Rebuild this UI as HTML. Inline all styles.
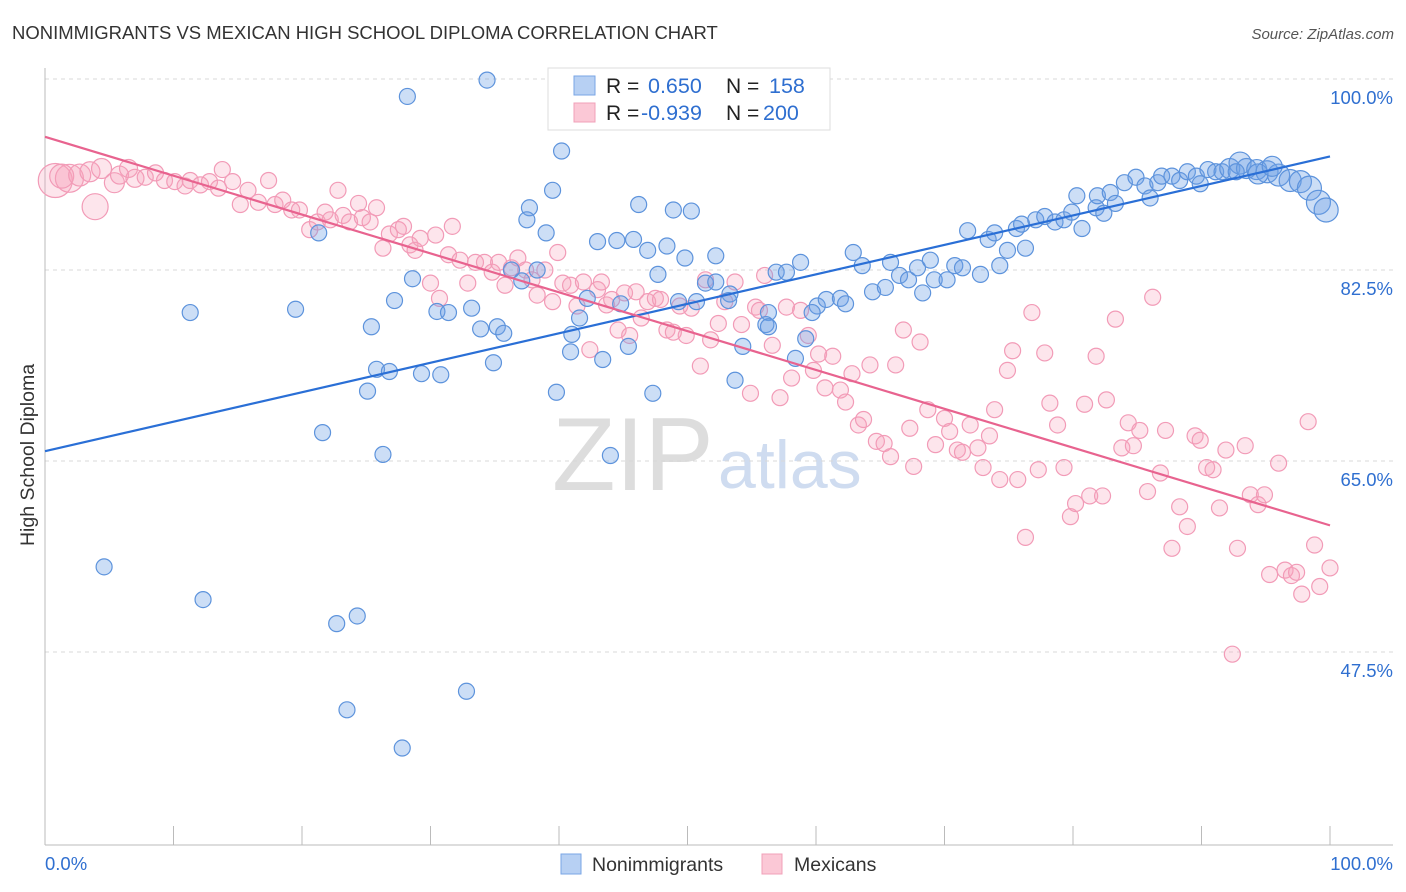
<!DOCTYPE html>
<html><head><meta charset="utf-8">
<style>
body{margin:0;background:#fff;font-family:"Liberation Sans",sans-serif;}
#wrap{position:relative;width:1406px;height:892px;overflow:hidden;}
svg text{font-family:"Liberation Sans",sans-serif;}
</style></head>
<body>
<div id="wrap">
<svg id="chart" width="1406" height="892">
  <text x="12" y="39" font-size="18.5" fill="#333">NONIMMIGRANTS VS MEXICAN HIGH SCHOOL DIPLOMA CORRELATION CHART</text>
  <text x="1394" y="39" font-size="15" fill="#555" font-style="italic" text-anchor="end">Source: ZipAtlas.com</text>
  <text x="552" y="490" font-size="104" fill="#ddd" font-family="Liberation Serif">ZIP</text>
  <text x="718" y="488" font-size="68" fill="#cfdcf0">atlas</text>
  <g id="grid"></g>
  <g id="axes"></g>
  <g id="marks"></g>
  <g id="trends"></g>
  <text transform="translate(34,455) rotate(-90)" font-size="19.5" fill="#333" text-anchor="middle">High School Diploma</text>
  <g>
    <rect x="548" y="68" width="282" height="62" fill="#fff" stroke="#ddd"/>
    <rect x="574" y="76" width="21" height="19" fill="#b7d0f3" stroke="#7aa6e6"/>
    <rect x="574" y="103" width="21" height="19" fill="#fbc8d6" stroke="#f0a0b8"/>
    <text x="606" y="93" font-size="21" fill="#222">R =</text>
    <text x="648" y="93" font-size="21.5" fill="#2f6fd0">0.650</text>
    <text x="726" y="93" font-size="21" fill="#222">N =</text>
    <text x="769" y="93" font-size="21.5" fill="#2f6fd0">158</text>
    <text x="606" y="120" font-size="21" fill="#222">R =</text>
    <text x="641" y="120" font-size="21.5" fill="#2f6fd0">-0.939</text>
    <text x="726" y="120" font-size="21" fill="#222">N =</text>
    <text x="763" y="120" font-size="21.5" fill="#2f6fd0">200</text>
  </g>
  <g>
    <rect x="561" y="854" width="20" height="20" fill="#b7d0f3" stroke="#7aa6e6"/>
    <text x="592" y="871" font-size="19.5" fill="#333">Nonimmigrants</text>
    <rect x="762" y="854" width="20" height="20" fill="#fbc8d6" stroke="#f0a0b8"/>
    <text x="794" y="871" font-size="19.5" fill="#333">Mexicans</text>
  </g>
</svg>
</div>
<script>
const yTicks=[100.0,82.5,65.0,47.5];
const yTickLabels=["100.0%","82.5%","65.0%","47.5%"];
const xTicks=[0,10,20,30,40,50,60,70,80,90,100];
const xEndLabels=["0.0%","100.0%"];
const blueX=[34.4,28.2,40.2,39.5,37.7,37.5,39.0,46.2,48.9,50.3,43.0,44.5,45.8,46.9,48.4,52.2,49.8,47.7,51.4,52.2,53.3,50.7,49.3,42.2,44.8,41.6,41.0,45.4,43.4,36.3,38.3,37.1,28.6,27.2,30.5,31.4,33.2,33.9,35.2,35.7,34.9,25.4,25.8,26.8,29.3,30.8,25.1,19.5,11.3,21.3,21.6,26.3,44.0,39.8,47.3,53.7,54.3,56.3,56.1,58.4,59.2,56.9,57.7,58.8,60.1,60.8,61.9,62.3,62.9,63.6,64.4,65.4,65.8,66.5,67.2,67.9,68.9,69.2,70.2,70.8,71.4,72.8,74.3,68.3,71.8,73.4,73.9,74.9,75.6,76.3,76.0,77.1,77.8,78.6,79.3,79.9,80.7,80.3,81.8,82.4,81.9,82.9,83.3,84.0,84.9,85.6,86.0,86.6,86.9,87.7,88.3,88.9,89.6,89.9,90.5,91.1,91.6,92.2,93.0,93.5,94.3,95.1,96.0,96.9,97.7,98.4,99.1,99.7,94.4,95.5,92.7,4.6,12.3,22.7,24.3,32.8,23.5,27.8,56.3,59.7,53.2,40.9];
const blueY=[99.9,98.4,93.4,89.8,88.2,87.1,85.9,88.5,88.0,87.9,85.1,85.2,85.3,84.3,84.7,83.8,83.6,82.1,81.3,81.4,80.3,79.6,79.6,79.9,79.4,78.1,76.6,75.5,74.3,82.5,82.5,81.5,81.7,79.7,78.7,78.6,79.0,77.1,77.3,76.7,74.0,77.3,73.4,73.2,73.0,72.9,71.4,78.9,78.6,85.9,67.6,65.6,65.5,71.3,71.2,72.4,75.5,78.6,77.5,74.4,76.2,82.3,82.3,83.2,79.2,79.8,79.9,79.4,84.1,82.9,80.5,80.9,83.2,82.0,81.6,82.7,83.4,81.6,81.6,82.9,82.7,82.1,82.9,80.4,86.1,85.3,85.9,84.3,86.3,84.5,86.7,87.1,87.4,86.9,87.1,87.8,86.3,89.3,88.2,87.7,89.3,89.6,88.6,90.5,91.0,90.2,89.1,90.5,91.1,91.1,90.7,91.5,91.1,90.4,91.7,91.5,91.5,91.8,92.3,91.8,91.7,91.5,91.2,90.7,90.6,90.0,88.7,88.0,91.3,92.0,91.5,55.3,52.3,50.1,50.8,43.9,42.2,38.7,77.3,78.6,79.7,75.0];
const pinkX=[0.8,1.9,1.3,2.7,3.5,3.9,4.4,5.4,5.8,6.5,7.0,7.8,8.6,9.3,10.1,10.9,11.3,12.1,12.8,13.5,13.8,14.6,15.2,15.8,16.6,17.4,17.9,18.5,19.2,19.8,20.6,21.2,21.8,22.2,22.8,23.2,23.7,24.4,24.7,25.3,25.8,26.3,26.8,27.5,27.9,28.4,28.8,29.2,30.0,30.4,30.7,31.4,31.7,32.3,32.9,33.5,34.2,34.8,35.3,35.8,36.3,36.8,37.4,37.9,38.3,38.9,39.5,39.9,40.3,40.9,41.4,41.9,42.4,43.0,43.3,43.7,44.1,44.6,45.1,45.5,46.0,46.4,46.9,47.5,47.9,48.4,48.9,49.4,49.9,50.3,51.0,51.4,51.8,52.4,52.9,53.7,54.2,54.9,55.3,55.6,56.0,56.6,57.2,57.7,58.1,58.8,59.4,59.8,60.2,60.7,61.3,61.9,62.3,62.8,63.3,63.7,64.2,64.7,65.3,65.8,66.2,66.8,67.3,67.6,68.1,68.7,69.3,70.0,70.4,71.0,71.4,72.0,72.6,73.0,73.5,73.9,74.3,74.9,75.3,75.7,76.3,76.8,77.3,77.8,78.2,78.8,79.3,79.8,80.2,80.9,81.3,81.8,82.3,82.6,83.3,83.8,84.3,84.7,85.2,85.8,86.2,86.8,87.2,87.7,88.3,88.9,89.5,89.9,90.4,90.9,91.4,91.9,92.4,92.8,93.4,93.8,94.4,94.9,95.3,96.0,96.5,97.0,97.4,97.8,98.3,98.8,99.2,100];
const pinkY=[90.7,90.9,91.1,91.2,91.5,88.3,91.8,90.5,91.2,91.8,90.9,91.0,91.4,90.7,90.6,90.2,90.7,90.3,90.6,90.0,91.7,90.6,88.5,89.8,88.7,90.7,88.5,88.9,88.0,88.0,86.2,86.9,87.8,87.1,89.8,87.5,86.9,88.6,87.3,86.9,88.2,84.5,85.8,86.2,86.5,84.8,84.3,85.4,81.3,85.7,79.9,83.9,86.5,83.4,81.3,83.2,83.2,82.3,83.2,81.1,82.7,83.6,82.5,81.6,80.2,82.5,79.6,84.1,81.3,81.1,79.2,81.4,75.2,80.7,81.4,79.3,79.8,77.0,80.4,76.5,80.5,78.1,79.6,79.9,79.8,77.0,76.8,79.2,76.5,79.0,73.7,81.6,76.1,77.6,79.6,81.4,77.5,71.2,79.1,78.8,82.0,75.6,70.8,79.1,72.6,78.8,76.5,73.3,74.8,71.7,74.6,71.5,70.4,73.0,68.3,68.8,73.8,66.8,66.6,65.4,73.8,77.0,68.0,64.5,75.9,69.7,66.5,68.9,67.7,66.0,65.8,68.3,66.2,64.4,67.3,69.7,63.3,73.3,75.1,63.3,58.0,78.6,64.2,74.9,70.3,68.3,64.4,59.9,61.1,70.2,61.8,74.6,61.8,70.6,78.0,66.2,68.5,66.4,67.8,62.2,80.0,63.9,67.8,57.0,60.8,59.0,67.3,66.9,64.4,64.2,60.7,66.0,47.3,57.0,66.4,61.9,61.0,61.9,54.6,64.8,55.0,54.5,54.8,52.8,68.6,57.3,53.5,55.2];
const pinkBigIdx=[0,1,2,3,4,5,6,7,8,9,10];
const pinkBigR=[17,14,12,11,10,13,10,10,9,9,9];
const blueBigIdx=[117,118,119,120,121,122,123,124,125,126,127,128,129];
const blueBigR=[10,11,10,10,11,11,11,11,12,12,12,10,10];
const blueTrend=[65.9,92.9];
const pinkTrend=[94.7,59.1];

const X0=45,X1=1330,Y100=79,PXPER=10.914;
const sx=v=>X0+(X1-X0)*v/100;
const sy=v=>Y100+(100-v)*PXPER;
const NS="http://www.w3.org/2000/svg";
function mk(tag,attrs,parent){const e=document.createElementNS(NS,tag);for(const k in attrs)e.setAttribute(k,attrs[k]);parent.appendChild(e);return e;}
const grid=document.getElementById('grid'),axes=document.getElementById('axes'),marks=document.getElementById('marks'),trends=document.getElementById('trends');
yTicks.forEach((t,i)=>{
  const l=mk('line',{x1:X0,x2:1393,y1:sy(t),y2:sy(t),stroke:'#d8d8d8','stroke-dasharray':'4,4'},grid);
  
  
  const tx=mk('text',{x:1393,y:sy(t)+25,'font-size':18.5,fill:'#2f6fd0','text-anchor':'end'},grid);
  tx.textContent=yTickLabels[i];
  
  
});
const ya=mk('line',{x1:X0,x2:X0,y1:68,y2:845,stroke:'#bbb'},axes);


const xa=mk('line',{x1:X0,x2:1393,y1:845,y2:845,stroke:'#bbb'},axes);


xTicks.forEach(t=>{
  const l=mk('line',{x1:sx(t),x2:sx(t),y1:826,y2:845,stroke:'#bbb'},axes);
  
  
});
const xl0=mk('text',{x:45,y:870,'font-size':18.5,fill:'#2f6fd0'},axes);xl0.textContent=xEndLabels[0];


const xl1=mk('text',{x:1393,y:870,'font-size':18.5,fill:'#2f6fd0','text-anchor':'end'},axes);xl1.textContent=xEndLabels[1];



pinkX.forEach((v,i)=>{
  const bi=pinkBigIdx.indexOf(i);const r=bi>=0?pinkBigR[bi]:8;
  const c=mk('circle',{cx:sx(v),cy:sy(pinkY[i]),r:r,fill:'rgba(248,160,188,0.28)',stroke:'#f29bb7','stroke-width':1.2},marks);
  
  
});
blueX.forEach((v,i)=>{
  const bi=blueBigIdx.indexOf(i);const r=bi>=0?blueBigR[bi]:8;
  const c=mk('circle',{cx:sx(v),cy:sy(blueY[i]),r:r,fill:'rgba(110,160,230,0.35)',stroke:'#5d93dc','stroke-width':1.2},marks);
  
  
});
const bt=mk('line',{x1:sx(0),y1:sy(blueTrend[0]),x2:sx(100),y2:sy(blueTrend[1]),stroke:'#2a6fd6','stroke-width':2.2},trends);


const pt=mk('line',{x1:sx(0),y1:sy(pinkTrend[0]),x2:sx(100),y2:sy(pinkTrend[1]),stroke:'#e8638f','stroke-width':2.2},trends);


</script>
</body></html>
